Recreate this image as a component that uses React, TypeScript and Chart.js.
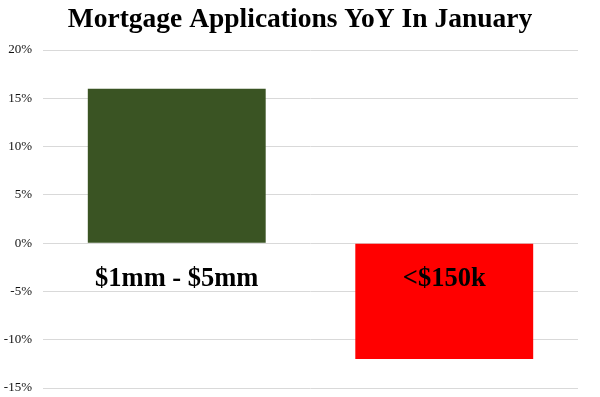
import React, { useEffect, useRef } from "react";
import { Chart, registerables } from "chart.js";

Chart.register(...registerables);

const categories = ["$1mm - $5mm", "<$150k"];
const yoyValues = [16, -12];
const barColors = ["#3a5423", "#ff0000"];
const yMin = -15;
const yMax = 20;
const yStep = 5;
const labelValue = -3.7;
const title = "Mortgage Applications YoY In January";

const categoryLabelPlugin = {
  id: "categoryLabels",
  afterDatasetsDraw(chart: any) {
    const { ctx, scales } = chart;
    const xs = scales.x;
    const ys = scales.y;
    ctx.save();
    ctx.font = "bold 26.5px 'Liberation Serif', serif";
    ctx.fillStyle = "#000";
    ctx.textAlign = "center";
    ctx.textBaseline = "middle";
    categories.forEach((c, i) => {
      ctx.fillText(c, xs.getPixelForValue(i), ys.getPixelForValue(labelValue));
    });
    ctx.restore();
  },
};

export default function App() {
  const ref = useRef<HTMLCanvasElement | null>(null);
  useEffect(() => {
    document.body.style.margin = "0";
    const chart = new Chart(ref.current!, {
      type: "bar",
      data: {
        labels: categories,
        datasets: [
          {
            data: yoyValues,
            backgroundColor: barColors,
            borderWidth: 0,
            categoryPercentage: 1,
            barPercentage: 0.665,
          },
        ],
      },
      options: {
        animation: false,
        responsive: false,
        maintainAspectRatio: false,
        layout: { padding: { top: 0, bottom: 9, left: 0, right: 0 } },
        plugins: {
          legend: { display: false },
          tooltip: { enabled: false },
          title: {
            display: true,
            text: title,
            color: "#000",
            font: { family: "'Liberation Serif', serif", size: 27.5, weight: "bold" },
            padding: { top: 3, bottom: 14 },
          },
        },
        scales: {
          x: { display: false },
          y: {
            min: yMin,
            max: yMax,
            border: { display: false },
            grid: { color: "#d9d9d9", drawTicks: true, tickLength: 11, tickColor: "rgba(0,0,0,0)" },
            ticks: {
              stepSize: yStep,
              padding: 0,
              color: "#111",
              font: { family: "'Liberation Serif', serif", size: 13 },
              callback: (v: any) => `${v}%`,
            },
            afterFit: (s: any) => {
              s.width = 43;
            },
          },
          yRight: {
            position: "right",
            display: true,
            border: { display: false },
            grid: { display: false },
            ticks: { display: false },
            afterFit: (s: any) => {
              s.width = 22;
            },
          },
        },
      },
      plugins: [categoryLabelPlugin],
    });
    return () => chart.destroy();
  }, []);
  return <canvas ref={ref} width={600} height={397} style={{ display: "block" }} />;
}
